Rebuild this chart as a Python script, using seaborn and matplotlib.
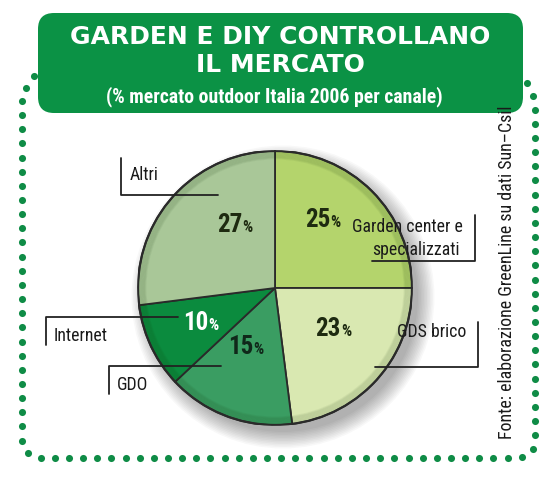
import numpy as np
import matplotlib
matplotlib.use("Agg")
import matplotlib.pyplot as plt
from matplotlib import font_manager
from matplotlib.patches import FancyBboxPatch, Circle
import seaborn as sns

sns.set_theme(style="white")

# ---------------- data ----------------
categories = ["Garden center e\nspecializzati", "GDS brico", "GDO", "Internet", "Altri"]
values = [25, 23, 15, 10, 27]
colors = ["#b4d46c", "#d9e8b1", "#3a9d62", "#0b8b3e", "#a9c798"]
title_lines = ["GARDEN E DIY CONTROLLANO", "IL MERCATO"]
subtitle = "(% mercato outdoor Italia 2006 per canale)"
source = "Fonte: elaborazione GreenLine su dati Sun\u2013Csil"

# ---------------- pick a condensed font if any ----------------
cond_family, cond_stretch, scale = "DejaVu Sans", "normal", 0.78
prefs = ["Liberation Sans Narrow", "DejaVu Sans Condensed", "Roboto Condensed",
         "Noto Sans Condensed", "Open Sans Condensed"]
names = {f.name for f in font_manager.fontManager.ttflist}
found = False
for p in prefs:
    if p in names:
        cond_family, cond_stretch, scale, found = p, "normal", 1.0, True
        break
if not found:
    for f in font_manager.fontManager.ttflist:
        st = str(f.stretch)
        if st in ("condensed", "semi-condensed", "extra-condensed") or \
                (isinstance(f.stretch, (int, float)) and f.stretch < 500):
            if any(k in f.name for k in ("DejaVu Sans", "Noto Sans", "Roboto", "Open Sans", "Liberation Sans")) \
                    and "Mono" not in f.name and "CJK" not in f.name:
                cond_family, cond_stretch, scale = f.name, f.stretch, 1.0
                found = True
                break

plt.rcParams["font.family"] = [cond_family, "DejaVu Sans"]
CF = dict(family=[cond_family, "DejaVu Sans"], stretch=cond_stretch)

W, H = 553, 480
fig = plt.figure(figsize=(W / 100, H / 100), dpi=100)
fig.patch.set_facecolor("white")

bg = fig.add_axes([0, 0, 1, 1], zorder=0)
bg.set_xlim(0, W)
bg.set_ylim(H, 0)
bg.axis("off")

# pie geometry (pixels)
cx, cy, R = 275, 288, 137

# soft shadow
for i in range(12):
    bg.add_patch(Circle((cx + 8, cy + 9), R - 2 + i * 1.5, color="#000000",
                        alpha=0.028, lw=0, zorder=1))

# title box
green = "#0b9245"
bg.add_patch(FancyBboxPatch((38 + 16, 13 + 16), 485 - 32, 100 - 32,
                            boxstyle="round,pad=16", fc=green, ec="none", zorder=3))
bg.text(280, 37, title_lines[0], family="DejaVu Sans", weight="bold", fontsize=18,
        color="white", ha="center", va="center", zorder=4)
bg.text(280, 65, title_lines[1], family="DejaVu Sans", weight="bold", fontsize=18,
        color="white", ha="center", va="center", zorder=4)
bg.text(274, 97, subtitle, weight="bold", fontsize=14.2 * scale, color="white",
        ha="center", va="center", zorder=4, **CF)

# dotted border: open rounded rectangle
def arc(c, r, a0, a1, n=20):
    t = np.radians(np.linspace(a0, a1, n))
    return np.c_[c[0] + r * np.cos(t), c[1] + r * np.sin(t)]

pts = np.vstack([
    np.array([[34, 76]]),
    np.array([[24, 90]]),
    np.array([[22, 104]]),
    np.array([[22, 433]]),
    arc((40, 440), 18, 180, 90)[1:],
    np.array([[515, 458]]),
    arc((517, 440), 18, 90, 0)[1:],
    np.array([[535, 108]]),
    np.array([[533, 95]]),
    np.array([[527, 83]]),
])
seg = np.sqrt((np.diff(pts, axis=0) ** 2).sum(axis=1))
cum = np.r_[0, np.cumsum(seg)]
n = int(round(cum[-1] / 14.1))
s = np.linspace(0, cum[-1], n + 1)
dx = np.interp(s, cum, pts[:, 0])
dy = np.interp(s, cum, pts[:, 1])
bg.scatter(dx, dy, s=26, color="#0f8c46", lw=0, zorder=2)

# pie axes
pax = fig.add_axes([(cx - R) / W, (H - cy - R) / H, 2 * R / W, 2 * R / H], zorder=1)
pax.pie(values, colors=colors, startangle=90, counterclock=False, radius=1,
        wedgeprops=dict(edgecolor="#2a2a2a", linewidth=1.3))
# rim shading
for i in range(10):
    pax.add_patch(Circle((0, 0), 1 - i * 0.006, fill=False, ec="#1a3a10",
                         lw=1.6, alpha=0.05))
pax.add_patch(Circle((0, 0), 1, fill=False, ec="#2a2a2a", lw=1.6))
pax.set_xlim(-1.0, 1.0)
pax.set_ylim(-1.0, 1.0)
pax.set_aspect("auto")
pax.axis("off")

# overlay
ov = fig.add_axes([0, 0, 1, 1], zorder=2)
ov.set_xlim(0, W)
ov.set_ylim(H, 0)
ov.axis("off")
ov.patch.set_alpha(0)

# percentage labels
pct_pos = [(330, 227), (341, 336), (253, 354), (208, 330), (242, 232)]
pct_col = ["#1e2a10", "#1e2a10", "#10281a", "white", "#1e2a10"]
for v, (x, y), c in zip(values, pct_pos, pct_col):
    ov.text(x, y, str(v), fontsize=18 * scale, weight="bold", color=c, ha="right",
            va="baseline", **CF)
    ov.text(x + 0.5, y, "%", fontsize=11.5 * scale, weight="bold", color=c, ha="left",
            va="baseline", **CF)

# callouts
lc = "#222222"
lw = 1.3
lab_kw = dict(fontsize=12.8 * scale, color="#1a1a1a", va="baseline", **CF)
# Garden center
ov.plot([372, 475, 475], [261, 261, 215], color=lc, lw=lw)
ov.text(352, 232, "Garden center e", ha="left", **lab_kw)
ov.text(460, 255, "specializzati", ha="right", **lab_kw)
# GDS brico
ov.plot([375, 478, 478], [367, 367, 322], color=lc, lw=lw)
ov.text(397, 337, "GDS brico", ha="left", **lab_kw)
# GDO
ov.plot([109, 109, 221], [394, 366, 366], color=lc, lw=lw)
ov.text(117, 390, "GDO", ha="left", **lab_kw)
# Internet
ov.plot([46, 46, 178], [345, 317, 317], color=lc, lw=lw)
ov.text(54, 341, "Internet", ha="left", **lab_kw)
# Altri
ov.plot([121, 121, 218], [158, 195, 195], color=lc, lw=lw)
ov.text(130, 180, "Altri", ha="left", **lab_kw)

# source
ov.text(507, 272, source, rotation=90, fontsize=12.9 * scale, color="#1a1a1a",
        ha="center", va="center", **CF)

fig.savefig("out.png", dpi=100, facecolor="white")
